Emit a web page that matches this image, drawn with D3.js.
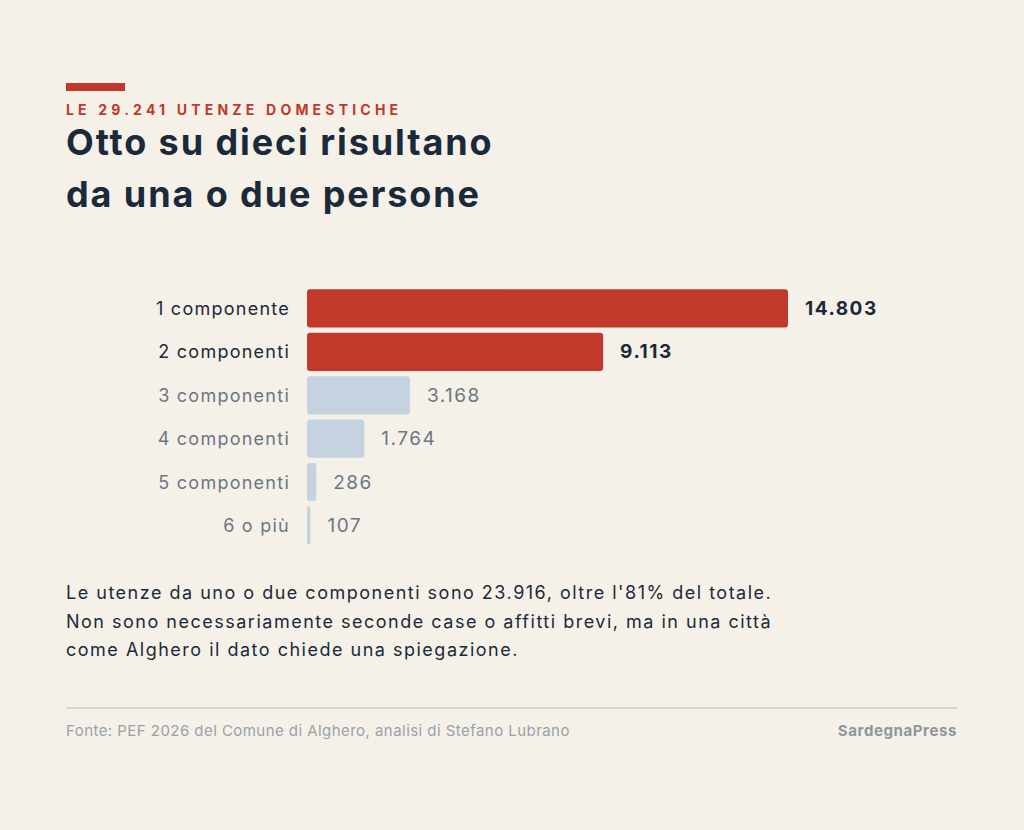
<!DOCTYPE html>
<html><head><meta charset="utf-8">
<script src="https://cdn.jsdelivr.net/npm/d3@7"></script>
<style>body{margin:0;background:#f5f1e8;}svg{display:block;font-family:Inter,sans-serif;}</style>
</head><body>
<script>
const categories = ["1 componente","2 componenti","3 componenti","4 componenti","5 componenti","6 o più"];
const values = [14803, 9113, 3168, 1764, 286, 107];
const valueLabels = ["14.803","9.113","3.168","1.764","286","107"];
const highlight = [true, true, false, false, false, false];

const svg = d3.select("body").append("svg").attr("width",1024).attr("height",830);
svg.append("rect").attr("width",1024).attr("height",830).attr("fill","#f5f1e8");

// header
svg.append("rect").attr("x",66).attr("y",83).attr("width",59).attr("height",8).attr("fill","#c0392b");
svg.append("text").attr("x",66).attr("y",115).attr("fill","#c0392b").attr("font-size",14)
  .attr("font-weight",700).attr("letter-spacing","4.2px").text("LE 29.241 UTENZE DOMESTICHE");
["Otto su dieci risultano","da una o due persone"].forEach((t,i)=>{
  svg.append("text").attr("x",66).attr("y",155+i*52).attr("fill","#1b2a3a").attr("font-size",36)
    .attr("font-weight",700).attr("letter-spacing","1.9px").text(t);
});

// chart
const x = d3.scaleLinear().domain([0,14803]).range([307,788]);
const y = d3.scaleBand().domain(categories).range([287,547]).paddingInner(0.12).paddingOuter(0.05);
const g = svg.append("g");
const rows = g.selectAll("g").data(categories).join("g");
rows.append("rect").attr("x",x(0)).attr("y",d=>y(d))
  .attr("width",(d,i)=>Math.max(0,x(values[i])-x(0))).attr("height",y.bandwidth())
  .attr("rx",3).attr("fill",(d,i)=>highlight[i]?"#c0392b":"#c5d3e0");
rows.append("text").attr("x",290).attr("y",d=>y(d)+y.bandwidth()/2).attr("dy","0.35em")
  .attr("text-anchor","end").attr("font-size",18).attr("letter-spacing","1.25px")
  .attr("fill",(d,i)=>highlight[i]?"#1b2a3a":"#6b7785").text(d=>d);
rows.append("text").attr("x",(d,i)=>x(values[i])+17).attr("y",d=>y(d)+y.bandwidth()/2).attr("dy","0.35em")
  .attr("font-size",19).attr("font-weight",(d,i)=>highlight[i]?700:400).attr("letter-spacing","1.5px")
  .attr("fill",(d,i)=>highlight[i]?"#1b2a3a":"#6b7785").text((d,i)=>valueLabels[i]);

// paragraph
["Le utenze da uno o due componenti sono 23.916, oltre l'81% del totale.",
 "Non sono necessariamente seconde case o affitti brevi, ma in una città",
 "come Alghero il dato chiede una spiegazione."].forEach((t,i)=>{
  svg.append("text").attr("x",66).attr("y",599+i*28.5).attr("font-size",18).attr("letter-spacing","1.5px")
    .attr("fill","#1b2a3a").text(t);
});

// footer
svg.append("line").attr("x1",66).attr("x2",957).attr("y1",708).attr("y2",708).attr("stroke","#ddd6c6").attr("stroke-width",2);
svg.append("text").attr("x",66).attr("y",736).attr("font-size",15).attr("fill","#9aa1a9").attr("letter-spacing","0.45px")
  .text("Fonte: PEF 2026 del Comune di Alghero, analisi di Stefano Lubrano");
svg.append("text").attr("x",957).attr("y",736).attr("text-anchor","end").attr("font-size",15).attr("letter-spacing","0.6px")
  .attr("font-weight",700).attr("fill","#8f969e").text("SardegnaPress");
</script>
</body></html>
